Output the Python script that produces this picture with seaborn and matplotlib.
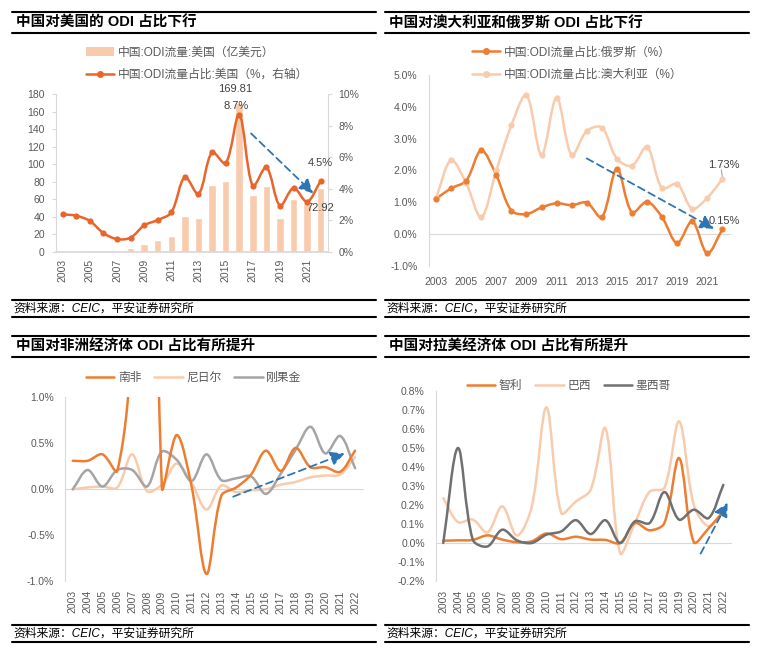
import numpy as np
import matplotlib
matplotlib.use('Agg')
import matplotlib.pyplot as plt
import seaborn as sns
from matplotlib.path import Path
from matplotlib.patches import PathPatch, Patch
from matplotlib.lines import Line2D

# data
years = list(range(2003, 2023))
us_odi = [0.65, 1.2, 2.3, 2.0, 2.0, 4.6, 9.1, 13.1, 18.1, 40.5, 38.7, 76.0, 80.3, 169.81, 64.3, 74.8, 38.1, 60.2, 55.8, 72.92]
us_share = [2.37, 2.28, 1.95, 1.18, 0.80, 0.89, 1.67, 2.01, 2.49, 4.73, 3.66, 6.30, 5.60, 8.70, 4.16, 5.35, 2.92, 4.04, 3.17, 4.50]
ru_share = [1.11, 1.44, 1.68, 2.63, 1.85, 0.74, 0.63, 0.84, 0.97, 0.91, 0.99, 0.53, 2.06, 0.68, 1.02, 0.53, -0.28, 0.40, -0.60, 0.15]
au_share = [1.14, 2.32, 1.60, 0.53, 2.00, 3.42, 4.37, 2.49, 4.29, 2.49, 3.24, 3.35, 2.37, 2.15, 2.74, 1.44, 1.58, 0.80, 1.14, 1.73]
za_share = [0.31, 0.31, 0.38, 0.20, 1.7, 8.6, 0.02, 0.59, 0.03, -0.92, -0.07, 0.02, 0.16, 0.42, 0.20, 0.45, 0.24, 0.24, 0.19, 0.42]
ne_share = [0.00, 0.02, 0.03, 0.02, 0.38, -0.02, 0.05, 0.28, 0.07, -0.22, 0.04, -0.03, -0.01, 0.00, 0.05, 0.08, 0.13, 0.15, 0.16, 0.35]
cd_share = [0.00, 0.21, 0.03, 0.21, 0.21, 0.03, 0.41, 0.32, 0.09, 0.38, 0.10, 0.12, 0.14, -0.05, 0.17, 0.43, 0.68, 0.39, 0.58, 0.23]
cl_share = [0.012, 0.014, 0.016, 0.04, 0.018, 0.004, 0.009, 0.05, 0.02, 0.033, 0.018, 0.016, 0.0, 0.105, 0.067, 0.105, 0.447, 0.004, 0.077, 0.166]
br_share = [0.236, 0.11, 0.123, 0.056, 0.193, 0.039, 0.19, 0.714, 0.158, 0.219, 0.28, 0.604, -0.053, 0.105, 0.27, 0.29, 0.64, 0.2, 0.088, 0.166]
mx_share = [0.0, 0.50, 0.018, -0.018, 0.07, 0.014, 0.0, 0.044, 0.061, 0.12, 0.047, 0.12, 0.0, 0.114, 0.105, 0.268, 0.123, 0.175, 0.131, 0.306]

titles = ['中国对美国的 ODI 占比下行', '中国对澳大利亚和俄罗斯 ODI 占比下行',
          '中国对非洲经济体 ODI 占比有所提升', '中国对拉美经济体 ODI 占比有所提升']
source = '资料来源：CEIC，平安证券研究所'

ORANGE = '#ED7D31'
RED_OR = '#E8652C'
PEACH = '#F8CBAD'
GRAY = '#A5A5A5'
DGRAY = '#707070'
BLUE = '#2E75B6'
AX_C = '#D9D9D9'
TXT = '#595959'

sns.set_theme(style='white')
plt.rcParams['font.family'] = ['Liberation Sans', 'Noto Sans CJK SC']
plt.rcParams['axes.unicode_minus'] = False

W, H = 757, 654
fig = plt.figure(figsize=(W / 100, H / 100), dpi=100)
x = np.arange(len(years))


def fx(px):
    return px / W


def fy(py):
    return 1 - py / H


def smooth_line(ax, ys, color, lw=1.8, t=1/3, zorder=3):
    # Excel style smoothed line: bezier through each point, in screen space
    pts = ax.transData.transform(np.column_stack([x, ys]).astype(float))
    n = len(pts)
    verts = [pts[0]]
    codes = [Path.MOVETO]
    for i in range(n - 1):
        p0, p1, p2, p3 = pts[max(i - 1, 0)], pts[i], pts[i + 1], pts[min(i + 2, n - 1)]
        d01 = np.hypot(*(p1 - p0))
        d12 = np.hypot(*(p2 - p1))
        d23 = np.hypot(*(p3 - p2))
        c1 = p1 + (p2 - p0) * t * d12 / (d01 + d12)
        c2 = p2 - (p3 - p1) * t * d12 / (d12 + d23)
        verts += [c1, c2, p2]
        codes += [Path.CURVE4] * 3
    data = ax.transData.inverted().transform(np.array(verts))
    ax.add_patch(PathPatch(Path(data, codes), fill=False, edgecolor=color, lw=lw,
                           zorder=zorder, capstyle='round', joinstyle='round'))


def dashed_arrow(ax, x0, y0, x1, y1):
    ax.annotate('', xy=(x1, y1), xytext=(x0, y0),
                arrowprops=dict(arrowstyle='-|>,head_length=0.7,head_width=0.35', color=BLUE,
                                lw=1.3, linestyle=(0, (4, 2.5)), shrinkA=0, shrinkB=0), zorder=5)


def panel_text(x0, x1, ytop, title):
    for yy in (ytop, ytop + 21):
        fig.add_artist(Line2D([fx(x0), fx(x1)], [fy(yy), fy(yy)], color='black', lw=1.5))
    fig.text(fx(x0 + 4), fy(ytop + 11), title, fontsize=10.5, fontweight='bold',
             color='black', va='center', ha='left')


def source_text(x0, x1, ytop):
    for yy in (ytop, ytop + 17):
        fig.add_artist(Line2D([fx(x0), fx(x1)], [fy(yy), fy(yy)], color='black', lw=1.5))
    fig.text(fx(x0 + 1), fy(ytop + 8.5), source, fontsize=8.5, style='italic',
             color='black', va='center', ha='left')


def y_style(ax, side='left'):
    ax.tick_params(axis='y', which='major', length=3, width=0.8, color=AX_C,
                   labelsize=7.5, labelcolor=TXT, pad=5, direction='out')
    ax.spines[side].set_color(AX_C)
    ax.spines[side].set_linewidth(0.8)


def zero_axis(ax, tick_pos, label_pos, label_txt, rot, pad):
    for s in ['top', 'right']:
        ax.spines[s].set_visible(False)
    ax.spines['bottom'].set_position(('data', 0))
    ax.spines['bottom'].set_color(AX_C)
    ax.spines['bottom'].set_linewidth(0.8)
    ax.set_xticks([])
    ax.set_xticks(tick_pos, minor=True)
    ax.tick_params(axis='x', which='minor', length=3, width=0.8, color=AX_C, direction='out')
    sec = ax.secondary_xaxis(0)
    sec.set_xticks(label_pos)
    sec.set_xticklabels(label_txt, rotation=rot)
    sec.tick_params(length=0, labelsize=7.5, labelcolor=TXT, pad=pad)
    sec.spines['bottom'].set_visible(False)


def legend_rows(handles, labels, x_px, y_px):
    fig.legend(handles=handles, labels=labels, loc='upper left',
               bbox_to_anchor=(fx(x_px), fy(y_px)), frameon=False, fontsize=8.5,
               labelcolor=TXT, handlelength=2.4, handletextpad=0.3, labelspacing=0.87,
               borderpad=0, borderaxespad=0)


def legend_row(handles, labels, x_px, y_px):
    fig.legend(handles=handles, labels=labels, ncol=3, loc='center left',
               bbox_to_anchor=(fx(x_px), fy(y_px)), frameon=False, fontsize=8.5,
               labelcolor=TXT, handlelength=2.4, handletextpad=0.3, columnspacing=1.1,
               borderpad=0, borderaxespad=0)


pct1 = lambda v: f'{v:.1f}%'

# ---------------- panel 1: US ----------------
panel_text(12, 376, 12, titles[0])
source_text(12, 376, 300)
ax1 = fig.add_axes([fx(55.9), fy(251.7), fx(271.6), (251.7 - 94) / H])
ax1.patch.set_alpha(0)
sns.barplot(x=x, y=us_odi, ax=ax1, color=PEACH, saturation=1, width=0.55, zorder=1)
ax1.set_xlim(-0.5, 19.5)
ax1.set_ylim(0, 180)
ax1.set_yticks(range(0, 181, 20))
ax1.set_xticks(x[::2])
ax1.set_xticklabels([str(y) for y in years[::2]], rotation=90)
ax1.set_xticks(np.arange(0.5, 19.5, 1), minor=True)
ax1.tick_params(axis='x', which='major', length=0, labelsize=7.5, labelcolor=TXT, pad=5)
ax1.tick_params(axis='x', which='minor', length=3, width=0.8, color=AX_C, direction='out')
ax1.spines['top'].set_visible(False)
ax1.spines['bottom'].set_color(AX_C)
ax1.spines['right'].set_visible(False)
y_style(ax1, 'left')
ax1.set_xlabel('')
ax1.set_ylabel('')

ax1r = ax1.twinx()
ax1r.set_ylim(0, 10)
ax1r.set_yticks(range(0, 11, 2))
ax1r.set_yticklabels([f'{v}%' for v in range(0, 11, 2)])
for s in ['top', 'left', 'bottom']:
    ax1r.spines[s].set_visible(False)
y_style(ax1r, 'right')
ax1r.set_xlim(-0.5, 19.5)
smooth_line(ax1r, us_share, RED_OR)
sns.scatterplot(x=x, y=us_share, ax=ax1r, color=RED_OR, s=20, linewidth=0, zorder=4, legend=False)
ax1r.set_xlim(-0.5, 19.5)
ax1r.set_ylim(0, 10)
ax1r.set_ylabel('')
dashed_arrow(ax1r, 13.87, 7.5, 18.45, 3.7)
ax1r.text(12.7, 10.3, '169.81', fontsize=8, color='#404040', ha='center', va='center')
ax1r.text(12.75, 9.24, '8.7%', fontsize=8, color='#404040', ha='center', va='center')
ax1r.text(18.95, 5.6, '4.5%', fontsize=8, color='#404040', ha='center', va='center')
ax1r.text(19.0, 2.75, '72.92', fontsize=8, color='#404040', ha='center', va='center')
legend_rows([Patch(facecolor=PEACH, edgecolor='none'),
             Line2D([], [], color=RED_OR, lw=1.8, marker='o', ms=4)],
            ['中国:ODI流量:美国（亿美元）', '中国:ODI流量占比:美国（%，右轴）'], 86, 46.5)

# ---------------- panel 2: Russia & Australia ----------------
panel_text(385, 749, 12, titles[1])
source_text(385, 749, 300)
ax2 = fig.add_axes([fx(428.5), fy(266), fx(301.4), 191 / H])
ax2.patch.set_alpha(0)
ax2.set_xlim(-0.5, 19.5)
ax2.set_ylim(-1, 5)
ax2.set_yticks(range(-1, 6))
ax2.set_yticklabels([pct1(v) for v in range(-1, 6)])
y_style(ax2)
zero_axis(ax2, np.arange(1.5, 19.6, 2), x[::2], [str(y) for y in years[::2]], 0, 8)
smooth_line(ax2, au_share, PEACH)
smooth_line(ax2, ru_share, ORANGE)
sns.scatterplot(x=x, y=au_share, ax=ax2, color=PEACH, s=20, linewidth=0, zorder=4, legend=False)
sns.scatterplot(x=x, y=ru_share, ax=ax2, color=ORANGE, s=20, linewidth=0, zorder=4, legend=False)
ax2.set_xlim(-0.5, 19.5)
ax2.set_ylim(-1, 5)
dashed_arrow(ax2, 10.0, 2.38, 18.45, 0.17)
ax2.text(19.09, 2.18, '1.73%', fontsize=8, color='#404040', ha='center', va='center')
ax2.annotate('', xy=(19, 1.8), xytext=(18.93, 2.02),
             arrowprops=dict(arrowstyle='-', color='#A6A6A6', lw=0.8, shrinkA=0, shrinkB=0))
ax2.text(19.13, 0.42, '0.15%', fontsize=8, color='#404040', ha='center', va='center')
legend_rows([Line2D([], [], color=ORANGE, lw=1.8, marker='o', ms=4),
             Line2D([], [], color=PEACH, lw=1.8, marker='o', ms=4)],
            ['中国:ODI流量占比:俄罗斯（%）', '中国:ODI流量占比:澳大利亚（%）'], 471.7, 46.5)

# ---------------- panel 3: Africa ----------------
panel_text(12, 376, 336, titles[2])
source_text(12, 376, 625)
ax3 = fig.add_axes([fx(65.3), fy(581.3), fx(297.2), 184 / H])
ax3.patch.set_alpha(0)
ax3.set_xlim(-0.5, 19.5)
ax3.set_ylim(-1, 1)
yt3 = [-1, -0.5, 0, 0.5, 1]
ax3.set_yticks(yt3)
ax3.set_yticklabels([pct1(v) for v in yt3])
y_style(ax3)
zero_axis(ax3, np.arange(0.5, 19.6, 1), x, [str(y) for y in years], 90, 6.5)
smooth_line(ax3, ne_share, PEACH)
smooth_line(ax3, cd_share, GRAY)
smooth_line(ax3, za_share, ORANGE)
dashed_arrow(ax3, 10.8, -0.08, 18.3, 0.39)
legend_row([Line2D([], [], color=c, lw=1.8) for c in (ORANGE, PEACH, GRAY)],
           ['南非', '尼日尔', '刚果金'], 86, 378.3)

# ---------------- panel 4: Latin America ----------------
panel_text(385, 749, 336, titles[3])
source_text(385, 749, 625)
ax4 = fig.add_axes([fx(435.9), fy(581), fx(294.8), 190 / H])
ax4.patch.set_alpha(0)
ax4.set_xlim(-0.5, 19.5)
ax4.set_ylim(-0.2, 0.8)
yt4 = [round(v, 1) for v in np.arange(-0.2, 0.81, 0.1)]
ax4.set_yticks(yt4)
ax4.set_yticklabels([pct1(v) for v in yt4])
y_style(ax4)
zero_axis(ax4, np.arange(0.5, 19.6, 1), x, [str(y) for y in years], 90, 6.5)
smooth_line(ax4, br_share, PEACH)
smooth_line(ax4, cl_share, ORANGE)
smooth_line(ax4, mx_share, DGRAY)
dashed_arrow(ax4, 17.46, -0.056, 19.29, 0.213)
legend_row([Line2D([], [], color=c, lw=1.8) for c in (ORANGE, PEACH, DGRAY)],
           ['智利', '巴西', '墨西哥'], 467, 386)

fig.savefig('out.png', dpi=100, facecolor='white')
